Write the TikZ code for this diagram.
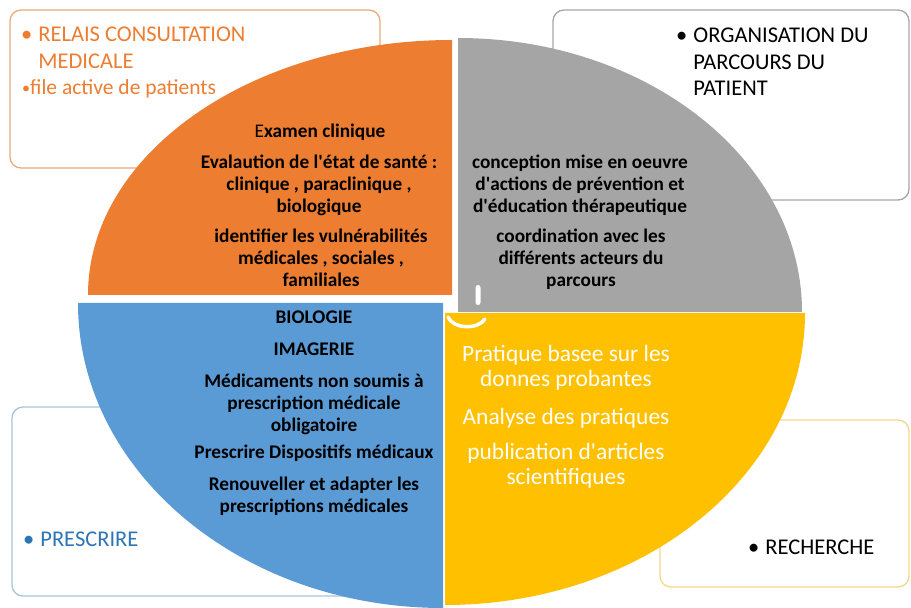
\documentclass[tikz,border=0pt]{standalone}
\usepackage{fontspec}
\setmainfont{Carlito}
\newcommand{\qapos}{\textquotesingle}
\definecolor{qor}{HTML}{ED7D31}
\definecolor{qgr}{HTML}{A5A5A5}
\definecolor{qbl}{HTML}{5B9BD5}
\definecolor{qye}{HTML}{FFC000}
\definecolor{bor}{HTML}{EBAA7C}
\definecolor{bgr}{HTML}{A6A6A6}
\definecolor{bbl}{HTML}{A9C4DE}
\definecolor{bye}{HTML}{F5D88A}
\definecolor{tbl}{HTML}{2E75B6}
\tikzset{
  boxframe/.style={line width=1.3pt, rounded corners=11pt},
  qtext/.style={anchor=base, inner sep=0pt, font=\fontsize{19.3}{22}\selectfont\bfseries, text=black},
  ytext/.style={anchor=base, inner sep=0pt, font=\fontsize{23.4}{25}\selectfont, text=white},
  btext/.style={anchor=base west, inner sep=0pt, font=\fontsize{22.5}{26.5}\selectfont},
}
\begin{document}
\begin{tikzpicture}[x=1pt,y=1pt]
\useasboundingbox (0,0) rectangle (911,608);
\fill[white] (0,0) rectangle (911,608);
% outer boxes
\draw[boxframe, draw=bor] (10,598) rectangle (380,440);
\draw[boxframe, draw=bgr] (553,598) rectangle (909,408);
\draw[boxframe, draw=bbl] (12,201) rectangle (400,12);
\draw[boxframe, draw=bye] (660,188) rectangle (909,21);
% quadrants
\fill[qor] (452,313) -- (88,313) arc[start angle=180, end angle=90, x radius=364pt, y radius=255pt] -- cycle;
\fill[qgr] (458,296) -- (458,570) arc[start angle=90, end angle=0, x radius=344pt, y radius=274pt] -- cycle;
\fill[qbl] (443,305) -- (78,305) arc[start angle=180, end angle=270, x radius=365pt, y radius=305pt] -- cycle;
\fill[qye] (445,295) -- (805,295) arc[start angle=0, end angle=-90, x radius=360pt, y radius=292pt] -- cycle;
% small white marks at the centre
\draw[white, line width=3.5pt, line cap=round] (448,291) .. controls (453,279) and (478,278) .. (485,289);
\fill[white, rounded corners=2.5pt] (475.5,303) rectangle (480.5,323);
% box texts
\node[btext, text=qor] (tl1) at (21,566) {\begin{tabular}[t]{@{}l@{\hspace{6pt}}l@{}}•&RELAIS CONSULTATION\\&MEDICALE\end{tabular}};
\node[btext, text=qor, font=\fontsize{21.5}{26}\selectfont] (tl2) at (22,513) {{\fontsize{16}{16}\selectfont\raisebox{1pt}{•}}file active de patients};
\node[btext, text=black] (tr1) at (676,565) {\begin{tabular}[t]{@{}l@{\hspace{6pt}}l@{}}•&ORGANISATION DU\\&PARCOURS DU\\&PATIENT\end{tabular}};
\node[btext, text=tbl] (bl1) at (23,61) {•\hspace{6pt}PRESCRIRE};
\node[btext, text=black] (br1) at (748,53) {•\hspace{6pt}RECHERCHE};
% orange quadrant
\node[qtext] (o1) at (320,470.5) {\begin{tabular}[t]{@{}c@{}}\mdseries E\bfseries xamen clinique\end{tabular}};
\node[qtext] (o2) at (319,439.5) {\begin{tabular}[t]{@{}c@{}}Evalaution de l\qapos état de santé :\\clinique , paraclinique ,\\biologique\end{tabular}};
\node[qtext] (o3) at (321,365.5) {\begin{tabular}[t]{@{}c@{}}identifier les vulnérabilités\\médicales , sociales ,\\familiales\end{tabular}};
% gray quadrant
\node[qtext] (g1) at (580,439.5) {\begin{tabular}[t]{@{}c@{}}conception mise en oeuvre\\d\qapos actions de prévention et\\d\qapos éducation thérapeutique\end{tabular}};
\node[qtext] (g2) at (581,365.5) {\begin{tabular}[t]{@{}c@{}}coordination avec les\\différents acteurs du\\parcours\end{tabular}};
% blue quadrant
\node[qtext] (b1) at (314,284) {BIOLOGIE};
\node[qtext] (b2) at (314,252) {IMAGERIE};
\node[qtext] (b3) at (314,220.5) {\begin{tabular}[t]{@{}c@{}}Médicaments non soumis à\\prescription médicale\\obligatoire\end{tabular}};
\node[qtext] (b4) at (314,149.5) {Prescrire Dispositifs médicaux};
\node[qtext] (b5) at (314,117.5) {\begin{tabular}[t]{@{}c@{}}Renouveller et adapter les\\prescriptions médicales\end{tabular}};
% yellow quadrant
\node[ytext] (y1) at (566,246) {\begin{tabular}[t]{@{}c@{}}Pratique basee sur les\\donnes probantes\end{tabular}};
\node[ytext] (y2) at (566,183) {Analyse des pratiques};
\node[ytext] (y3) at (566,148) {\begin{tabular}[t]{@{}c@{}}publication d\qapos articles\\scientifiques\end{tabular}};
\end{tikzpicture}
\end{document}
